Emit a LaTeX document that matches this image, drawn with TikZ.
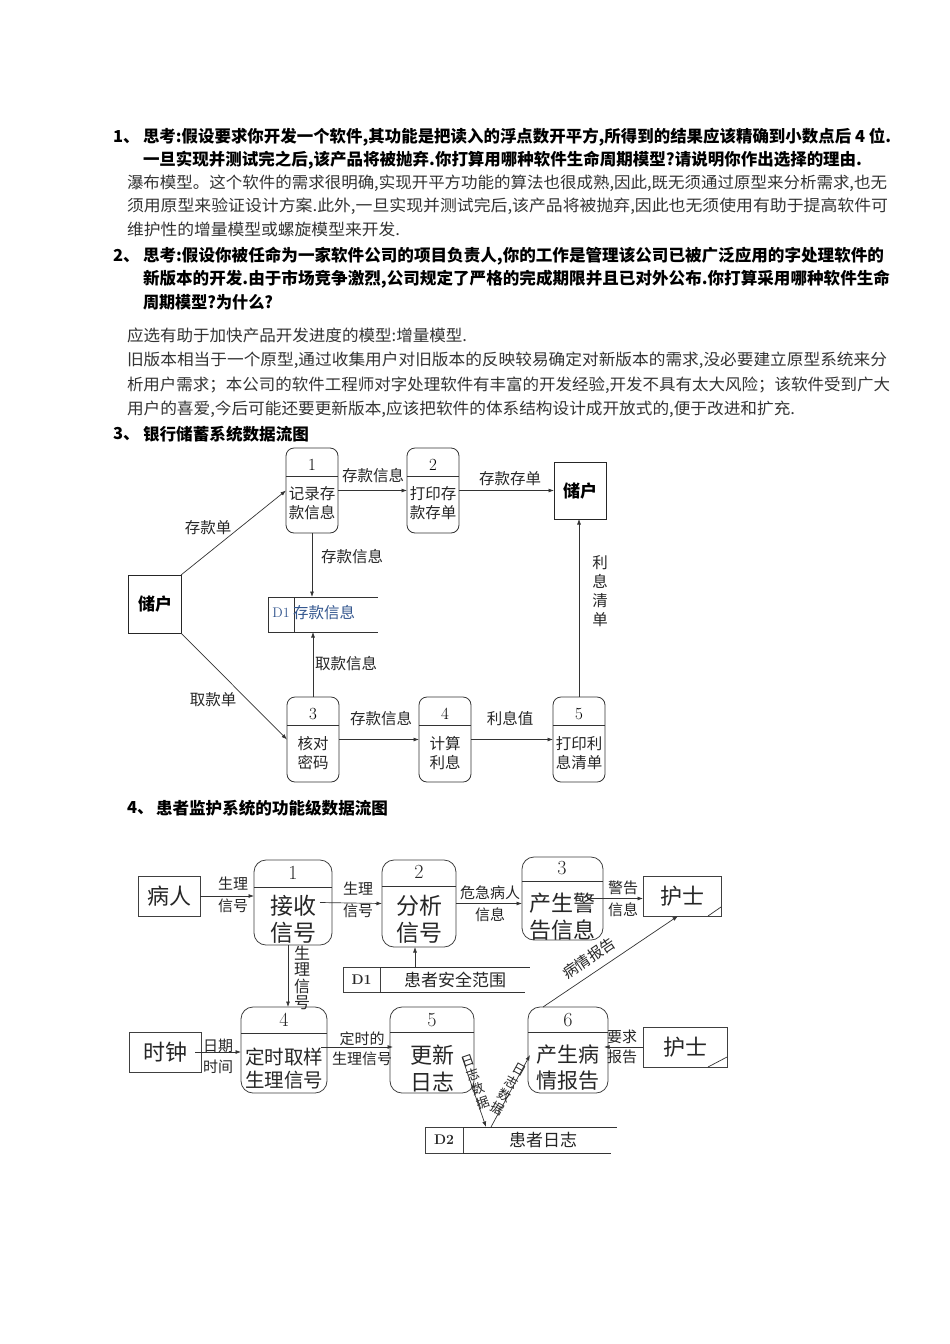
\documentclass[tikz,border=0pt]{standalone}
\usepackage{fontspec}
\usepackage{graphicx}
\newfontfamily\cjk{Noto Sans CJK SC}
\usetikzlibrary{arrows.meta}
\definecolor{storeblue}{HTML}{34578F}
\tikzset{
  every node/.style={inner sep=0pt, outer sep=0pt},
  body/.style={anchor=west, text=black!80, font=\cjk\fontsize{16}{18}\selectfont},
  head/.style={anchor=west, text=black, font=\cjk\bfseries\fontsize{16.5}{18}\selectfont},
  arr/.style={draw=black!80, line width=0.7pt, -{Latex[length=5.5pt,width=4pt]}},
  ln/.style={draw=black!80, line width=0.7pt},
  ent/.style={draw=black!85, line width=0.8pt, anchor=north west},
  procA/.style={draw=black!80, line width=0.8pt, rounded corners=8pt, anchor=north west, minimum width=52pt, minimum height=85pt},
  procB/.style={draw=black!75, line width=0.8pt, rounded corners=12pt, anchor=north west},
  labA/.style={text=black!85, font=\cjk\fontsize{15.5}{19}\selectfont, align=center},
  numA/.style={text=black, font=\fontsize{17}{19}\selectfont},
  entA/.style={text=black, font=\cjk\bfseries\fontsize{17}{20}\selectfont},
  labB/.style={text=black!85, font=\cjk\fontsize{15}{21}\selectfont, align=center},
  numB/.style={text=black!85, font=\fontsize{20}{22}\selectfont},
  ptB/.style={text=black!85, font=\cjk\fontsize{22}{27}\selectfont, align=center},
  entB/.style={text=black!85, font=\cjk\fontsize{22}{24}\selectfont},
}
\begin{document}
\begin{tikzpicture}[x=1pt,y=-1pt]
\fill[white] (0,0) rectangle (950,1344);
\path[use as bounding box] (0,0) rectangle (950,1344);

% ---------- text block ----------
\node[head] (h1n) at (113,137) {1、};
\node[head] (h1a) at (143,137) {\resizebox{748pt}{\height}{思考:假设要求你开发一个软件,其功能是把读入的浮点数开平方,所得到的结果应该精确到小数点后 4 位.}};
\node[head] (h1b) at (143,160) {\resizebox{719pt}{\height}{一旦实现并测试完之后,该产品将被抛弃.你打算用哪种软件生命周期模型?请说明你作出选择的理由.}};
\node[body] (t1a) at (127,183) {\resizebox{760pt}{\height}{瀑布模型。这个软件的需求很明确,实现开平方功能的算法也很成熟,因此,既无须通过原型来分析需求,也无}};
\node[body] (t1b) at (127,206) {\resizebox{761pt}{\height}{须用原型来验证设计方案.此外,一旦实现并测试完后,该产品将被抛弃,因此也无须使用有助于提高软件可}};
\node[body] (t1c) at (127,229) {\resizebox{273pt}{\height}{维护性的增量模型或螺旋模型来开发.}};
\node[head] (h2n) at (113,256) {2、};
\node[head] (h2a) at (143,256) {\resizebox{741pt}{\height}{思考:假设你被任命为一家软件公司的项目负责人,你的工作是管理该公司已被广泛应用的字处理软件的}};
\node[head] (h2b) at (143,279) {\resizebox{747pt}{\height}{新版本的开发.由于市场竞争激烈,公司规定了严格的完成期限并且已对外公布.你打算采用哪种软件生命}};
\node[head] (h2c) at (143,302) {\resizebox{130pt}{\height}{周期模型?为什么?}};
\node[body] (t2a) at (127,335) {\resizebox{340pt}{\height}{应选有助于加快产品开发进度的模型:增量模型.}};
\node[body] (t2b) at (127,360) {\resizebox{760pt}{\height}{旧版本相当于一个原型,通过收集用户对旧版本的反映较易确定对新版本的需求,没必要建立原型系统来分}};
\node[body] (t2c) at (127,385) {\resizebox{763pt}{\height}{析用户需求；本公司的软件工程师对字处理软件有丰富的开发经验,开发不具有太大风险；该软件受到广大}};
\node[body] (t2d) at (127,409) {\resizebox{668pt}{\height}{用户的喜爱,今后可能还要更新版本,应该把软件的体系结构设计成开放式的,便于改进和扩充.}};
\node[head] (h3n) at (113,434) {3、};
\node[head] (h3a) at (143,434) {\resizebox{166pt}{\height}{银行储蓄系统数据流图}};
\node[head] (h4n) at (127,808) {4、};
\node[head] (h4a) at (156,808) {\resizebox{232pt}{\height}{患者监护系统的功能级数据流图}};

% ---------- diagram 3: bank ----------
\node[ent, minimum width=53pt, minimum height=58pt] (c1) at (128,575) {};
\node[entA] (c1t) at (155,604) {储户};
\node[ent, minimum width=52pt, minimum height=57pt] (c2) at (554,462) {};
\node[entA] (c2t) at (580,491) {储户};

\node[procA] (p1) at (286,448) {};
\node[procA] (p2) at (407,448) {};
\node[procA] (p3) at (287,697) {};
\node[procA] (p4) at (419,697) {};
\node[procA] (p5) at (553,697) {};
\foreach \p in {p1,p2,p3,p4,p5}
  \draw[ln] ([yshift=-28pt]\p.north west) -- ([yshift=-28pt]\p.north east);

\node[numA] (p1n) at (312,465) {1};
\node[labA] (p1t) at (312,503.5) {记录存\\款信息};
\node[numA] (p2n) at (433,465) {2};
\node[labA] (p2t) at (433,503.5) {打印存\\款存单};
\node[numA] (p3n) at (313,714) {3};
\node[labA] (p3t) at (313,753.5) {核对\\密码};
\node[numA] (p4n) at (445,714) {4};
\node[labA] (p4t) at (445,753.5) {计算\\利息};
\node[numA] (p5n) at (579,714) {5};
\node[labA] (p5t) at (579,753.5) {打印利\\息清单};

\node[ent, draw=black!80, line width=0.7pt, minimum width=26pt, minimum height=35pt] (d1) at (268,597) {};
\draw[ln] (d1.north east) -- ++(84,0);
\draw[ln] (d1.south east) -- ++(84,0);
\node[text=storeblue, font=\fontsize{14}{16}\selectfont] (d1n) at (281,613) {D1};
\node[labA, text=storeblue] (d1t) at (324,613) {存款信息};

\draw[arr] (c1.north east) -- (p1.west);
\draw[arr] (p1.east) -- (p2.west);
\draw[arr] (p2.east) -- (c2.west);
\draw[arr] (p1.south) -- (p1.south |- d1.north);
\draw[arr] (p3.north) -- (p3.north |- d1.south);
\draw[arr] (c1.south east) -- (p3.west);
\draw[arr] (p3.east) -- (p4.west);
\draw[arr] (p4.east) -- (p5.west);
\draw[arr] (p5.north) -- (p5.north |- c2.south);

\node[labA] (la1) at (208,528) {存款单};
\node[labA] (la2) at (373,476) {存款信息};
\node[labA] (la3) at (510,479) {存款存单};
\node[labA] (la4) at (352,557) {存款信息};
\node[labA] (la5) at (346,664) {取款信息};
\node[labA] (la6) at (213,700) {取款单};
\node[labA] (la7) at (381,719) {存款信息};
\node[labA] (la8) at (510,719) {利息值};
\node[labA, font=\cjk\fontsize{15.5}{19}\selectfont] (la9) at (600,591) {利\\息\\清\\单};

% ---------- diagram 4: patient monitoring ----------
\node[ent, draw=black!75, minimum width=62pt, minimum height=40pt] (pat) at (138,876) {};
\node[entB] (patt) at (169,896) {病人};
\node[ent, draw=black!75, minimum width=78pt, minimum height=40pt] (nurse1) at (643,876) {};
\node[entB] (nurse1t) at (682,896) {护士};
\draw[ln] ([xshift=-13pt]nurse1.south east) -- ([yshift=9pt]nurse1.south east);
\node[ent, draw=black!75, minimum width=84pt, minimum height=40pt] (nurse2) at (643,1027) {};
\node[entB] (nurse2t) at (685,1047) {护士};
\draw[ln] ([xshift=-19pt]nurse2.south east) -- ([yshift=10pt]nurse2.south east);
\node[ent, draw=black!75, minimum width=72pt, minimum height=40pt] (clock) at (129,1032) {};
\node[entB] (clockt) at (165,1052) {时钟};

\node[procB, minimum width=78pt, minimum height=85pt] (q1) at (254,860) {};
\draw[ln] ([yshift=-27pt]q1.north west) -- ([yshift=-27pt]q1.north east);
\node[procB, minimum width=74pt, minimum height=87pt] (q2) at (382,860) {};
\draw[ln] ([yshift=-26pt]q2.north west) -- ([yshift=-26pt]q2.north east);
\node[procB, minimum width=81pt, minimum height=83pt] (q3) at (522,857) {};
\draw[ln] ([yshift=-24pt]q3.north west) -- ([yshift=-24pt]q3.north east);
\node[procB, minimum width=86pt, minimum height=86pt] (q4) at (241,1007) {};
\draw[ln] ([yshift=-26pt]q4.north west) -- ([yshift=-26pt]q4.north east);
\node[procB, minimum width=84pt, minimum height=86pt] (q5) at (390,1007) {};
\draw[ln] ([yshift=-25pt]q5.north west) -- ([yshift=-25pt]q5.north east);
\node[procB, minimum width=80pt, minimum height=86pt] (q6) at (528,1007) {};
\draw[ln] ([yshift=-25pt]q6.north west) -- ([yshift=-25pt]q6.north east);

\node[numB] (q1n) at (293,873) {1};
\node[ptB, font=\cjk\fontsize{23}{27}\selectfont] (q1t) at (293,919.5) {接收\\信号};
\node[numB] (q2n) at (419,872) {2};
\node[ptB, font=\cjk\fontsize{23}{27}\selectfont] (q2t) at (419,919.5) {分析\\信号};
\node[numB] (q3n) at (562,868) {3};
\node[ptB] (q3t) at (562,916.5) {产生警\\告信息};
\node[numB] (q4n) at (284,1020) {4};
\node[ptB, font=\cjk\fontsize{19.5}{23}\selectfont] (q4t) at (284,1068.5) {定时取样\\生理信号};
\node[numB] (q5n) at (432,1020) {5};
\node[ptB] (q5t) at (432,1068) {更新\\日志};
\node[numB] (q6n) at (568,1020) {6};
\node[ptB, font=\cjk\fontsize{21}{26}\selectfont] (q6t) at (568,1068) {产生病\\情报告};

% data stores
\node[ent, draw=black!75, line width=0.7pt, minimum width=37pt, minimum height=25pt] (d41) at (343,967) {};
\draw[ln] (d41.north east) -- ++(150,0);
\draw[ln] (d41.south east) -- ++(145,0);
\node[font=\bfseries\fontsize{14}{16}\selectfont, text=black!85] (d41n) at (361.5,980) {D1};
\node[labB, font=\cjk\fontsize{17}{19}\selectfont] (d41t) at (455,980) {患者安全范围};
\node[ent, draw=black!75, line width=0.7pt, minimum width=38pt, minimum height=26pt] (d42) at (425,1127) {};
\draw[ln] (d42.north east) -- ++(154,0);
\draw[ln] (d42.south east) -- ++(148,0);
\node[font=\bfseries\fontsize{14}{16}\selectfont, text=black!85] (d42n) at (444,1140) {D2};
\node[labB, font=\cjk\fontsize{17}{19}\selectfont] (d42t) at (543,1140) {患者日志};

\coordinate (d1tap) at (415,967);
\coordinate (d2a) at (486,1127);
\coordinate (d2b) at (491,1127);

% connectors
\draw[arr] (pat.east) -- (pat.east -| q1.west);
\draw[arr] ([xshift=-12pt]q1.east) -- (q2.west);
\draw[arr] (q2.east) -- (q2.east -| q3.west);
\draw[arr] ([xshift=-16pt]q3.east) -- (q3.east -| nurse1.west);
\draw[arr] (d1tap) -- (d1tap |- q2.south);
\draw[arr] ([xshift=-5pt]q1.south) -- ([xshift=-5pt]q1.south |- q4.north);
\draw[arr] ([xshift=-6pt]clock.east) -- (clock.east -| q4.west);
\draw[arr] ([xshift=-6pt,yshift=3pt]q4.east) -- ([xshift=3pt,yshift=3pt]q5.west);
\draw[arr] ([xshift=-12pt,yshift=-7pt]q5.east) -- (d2a);
\draw[arr] (d2b) -- ([xshift=2pt,yshift=-5pt]q6.west);
\draw[arr] ([xshift=15pt]q6.north west) -- ([xshift=35pt]nurse1.south west);
\draw[arr] (nurse2.west) -- ([xshift=-4pt]nurse2.west -| q6.east);

% labels
\node[labB, font=\cjk\fontsize{15}{22}\selectfont] (lb1) at (233,895) {生理\\信号};
\node[labB, font=\cjk\fontsize{15}{22}\selectfont] (lb2) at (358,900) {生理\\信号};
\node[labB, font=\cjk\fontsize{15}{22}\selectfont] (lb3) at (490,904) {危急病人\\信息};
\node[labB, font=\cjk\fontsize{15}{22}\selectfont] (lb4) at (623,899) {警告\\信息};
\node[labB, rotate=34] (lb5) at (589,958) {病情报告};
\node[labB, font=\cjk\fontsize{16}{16.5}\selectfont] (lb6) at (302,978) {生\\理\\信\\号};
\node[labB, font=\cjk\fontsize{15}{21}\selectfont] (lb7) at (218,1056) {日期\\时间};
\node[labB, font=\cjk\fontsize{15}{20}\selectfont] (lb8) at (362,1049) {定时的\\生理信号};
\node[labB, font=\cjk\fontsize{13}{15}\selectfont, rotate=19] (lb9) at (476,1082) {日\\志\\数\\据};
\node[labB, font=\cjk\fontsize{13}{15}\selectfont, rotate=-29] (lb10) at (508,1089) {日\\志\\数\\据};
\node[labB, font=\cjk\fontsize{15}{20}\selectfont] (lb11) at (622,1047) {要求\\报告};
\end{tikzpicture}
\end{document}
